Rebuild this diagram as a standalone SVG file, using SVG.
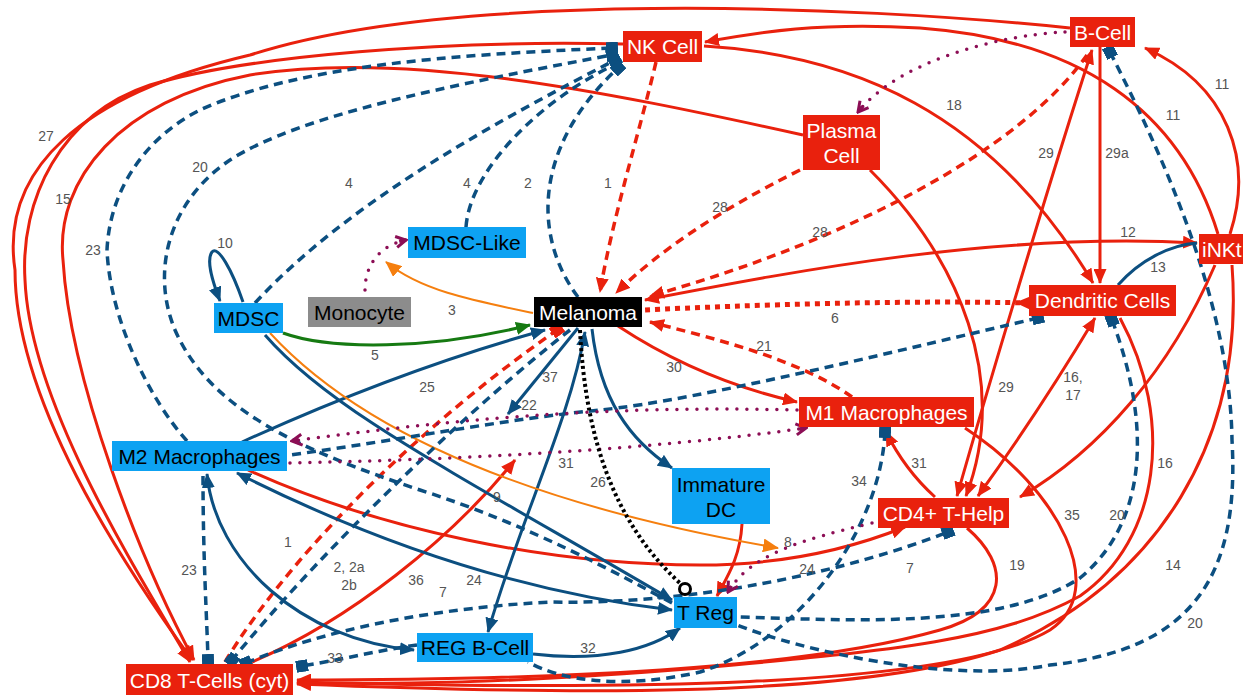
<svg xmlns="http://www.w3.org/2000/svg" width="1243" height="695" viewBox="0 0 1243 695">
<style>
.rs{fill:none;stroke:#E9210D;stroke-width:3}
.rd{fill:none;stroke:#E9210D;stroke-width:3.5;stroke-dasharray:9 6}
.rdot{fill:none;stroke:#E9210D;stroke-width:5;stroke-dasharray:5 5}
.bs{fill:none;stroke:#0C4F80;stroke-width:3}
.bd{fill:none;stroke:#0C4F80;stroke-width:3.5;stroke-dasharray:9 6}
.pd{fill:none;stroke:#8C0E55;stroke-width:3.5;stroke-linecap:round;stroke-dasharray:0 10}
.kd{fill:none;stroke:#000;stroke-width:4;stroke-dasharray:3 3}
.gs{fill:none;stroke:#167A12;stroke-width:3}
.os{fill:none;stroke:#F57F0F;stroke-width:2}
.lb{font-family:"Liberation Sans",Arial,sans-serif;font-size:14px;fill:#555;text-anchor:middle}
.nt{font-family:"Liberation Sans",Arial,sans-serif;font-size:21px;text-anchor:middle}
.red{fill:#E9210D}.lblue{fill:#0DA2F2}.gray{fill:#8C8C8C}.blk{fill:#000}
.w{fill:#fff}.k{fill:#000}
</style>
<defs>
<marker id="aR" markerUnits="userSpaceOnUse" viewBox="0 0 15 13" markerWidth="15" markerHeight="13" refX="14" refY="6.5" orient="auto-start-reverse"><path d="M0,0 L15,6.5 L0,13 z" fill="#E9210D"/></marker>
<marker id="aRf" markerUnits="userSpaceOnUse" viewBox="0 0 15 13" markerWidth="15" markerHeight="13" refX="0" refY="6.5" orient="auto"><path d="M0,0 L15,6.5 L0,13 z" fill="#E9210D"/></marker>
<marker id="aB" markerUnits="userSpaceOnUse" viewBox="0 0 15 13" markerWidth="15" markerHeight="13" refX="14" refY="6.5" orient="auto-start-reverse"><path d="M0,0 L15,6.5 L0,13 z" fill="#0C4F80"/></marker>
<marker id="aG" markerUnits="userSpaceOnUse" viewBox="0 0 15 13" markerWidth="15" markerHeight="13" refX="14" refY="6.5" orient="auto"><path d="M0,0 L15,6.5 L0,13 z" fill="#167A12"/></marker>
<marker id="aO" markerUnits="userSpaceOnUse" viewBox="0 0 16 14" markerWidth="16" markerHeight="14" refX="15" refY="7" orient="auto"><path d="M0,0 L16,7 L0,14 z" fill="#F57F0F"/></marker>
<marker id="cP" markerUnits="userSpaceOnUse" viewBox="0 0 14 14" markerWidth="14" markerHeight="14" refX="12" refY="7" orient="auto"><path d="M2,1.5 L12,7 L2,12.5 M5,7 L12,7" fill="none" stroke="#8C0E55" stroke-width="3"/></marker>
<marker id="sB" markerUnits="userSpaceOnUse" viewBox="0 0 12 12" markerWidth="12" markerHeight="12" refX="6" refY="6" orient="auto"><rect x="0" y="0" width="12" height="12" fill="#0C4F80"/></marker>
<marker id="sR" markerUnits="userSpaceOnUse" viewBox="0 0 12 12" markerWidth="12" markerHeight="12" refX="6" refY="6" orient="auto"><rect x="0" y="0" width="12" height="12" fill="#E9210D"/></marker>
</defs>

<g id="connectors">
<!-- red solid -->
<path class="rs" d="M1070,28 C850,5 450,-10 250,55 C80,95 0,170 15,270 C15,400 120,560 192,660" marker-end="url(#aR)"/>
<path class="rs" d="M623,44 C450,40 250,55 150,85 C60,115 20,200 25,280 C30,400 130,560 190,662" marker-end="url(#aR)"/>
<path class="rs" d="M803,135 C600,90 400,50 250,75 C120,100 55,180 63,260 C70,380 140,560 194,660" marker-end="url(#aR)"/>
<path class="rs" d="M1218,234 C1180,110 1080,40 920,28 C820,22 760,32 705,42" marker-end="url(#aR)"/>
<path class="rs" d="M704,46 C850,55 990,110 1093,283" marker-end="url(#aR)"/>
<path class="rs" d="M1230,234 C1254,160 1228,85 1145,48" marker-end="url(#aR)"/>
<path class="rs" d="M1100,47 L1100,283" marker-end="url(#aR)"/>
<path class="rs" d="M957,496 C990,380 1050,180 1092,50" marker-start="url(#aR)" marker-end="url(#aR)"/>
<path class="rs" d="M870,170 C960,260 1010,380 966,496" marker-end="url(#aR)"/>
<path class="rs" d="M1215,265 C1170,370 1100,450 1020,497" marker-end="url(#aR)"/>
<path class="rs" d="M978,496 Q1040,410 1095,318" marker-start="url(#aR)" marker-end="url(#aR)"/>
<path class="rs" d="M935,497 Q905,470 886,432" marker-end="url(#aR)"/>
<path class="rs" d="M248,470 C380,530 550,565 700,565 C790,565 860,545 905,527" marker-end="url(#aR)"/>
<path class="rs" d="M618,326 Q700,380 797,402" marker-end="url(#aR)"/>
<path class="rs" d="M1197,243 C1000,232 800,270 645,300" marker-start="url(#aR)" marker-end="url(#aR)"/>
<path class="rs" d="M252,662 C350,620 450,540 515,460" marker-end="url(#aR)"/>
<path class="rs" d="M742,524 C740,560 725,580 717,596" marker-end="url(#aR)"/>
<path class="rs" d="M965,428 C1060,490 1110,590 1050,630 C950,690 600,690 297,682" marker-end="url(#aR)"/>
<path class="rs" d="M967,528 C1010,565 1010,610 940,630 C800,670 550,680 297,680" marker-end="url(#aR)"/>
<path class="rs" d="M1120,318 C1175,420 1160,540 1080,596 C1000,640 900,650 700,668 C500,684 400,684 297,683" marker-end="url(#aR)"/>
<path class="rs" d="M1232,265 C1245,440 1160,580 1000,650 C850,700 550,694 297,684" marker-end="url(#aR)"/>
<!-- red dashed / dotted -->
<path class="rd" d="M852,397 C800,360 720,340 650,322" marker-end="url(#aR)"/>
<path class="rdot" d="M1030,303 C900,300 750,305 643,310" marker-start="url(#aRf)"/>
<path class="rd" d="M1087,55 C1020,150 850,240 650,296" marker-end="url(#aR)"/>
<path class="rd" d="M800,170 C720,210 660,250 616,293" marker-end="url(#aR)"/>
<path class="rd" d="M656,62 C640,130 612,220 600,292" marker-end="url(#aR)"/>
<path class="rd" d="M225,662 C280,570 400,440 557,330" marker-end="url(#sR)"/>
<!-- blue solid -->
<path class="bs" d="M243,302 C232,270 218,245 212,252 C206,260 212,280 220,301" marker-end="url(#aB)"/>
<path class="bs" d="M265,335 C330,410 450,470 672,600" marker-end="url(#aB)"/>
<path class="bs" d="M242,442 Q400,370 545,330" marker-end="url(#aB)"/>
<path class="bs" d="M237,473 C350,530 500,590 672,610" marker-start="url(#aB)" marker-end="url(#aB)"/>
<path class="bs" d="M207,474 C215,560 300,640 414,650" marker-start="url(#aB)" marker-end="url(#aB)"/>
<path class="bs" d="M488,632 C520,520 570,420 585,332" marker-start="url(#aB)" marker-end="url(#aB)"/>
<path class="bs" d="M578,328 L508,414" marker-end="url(#aB)"/>
<path class="bs" d="M592,329 C600,400 630,440 672,468" marker-end="url(#aB)"/>
<path class="bs" d="M533,654 C600,662 650,650 680,628" marker-end="url(#aB)"/>
<path class="bs" d="M1118,285 C1140,260 1170,245 1197,243"/>
<!-- green / orange -->
<path class="gs" d="M283,333 C330,350 430,350 530,325" marker-end="url(#aG)"/>
<path class="os" d="M533,313 C470,300 420,290 386,262" marker-end="url(#aO)"/>
<path class="os" d="M270,333 C350,420 500,500 778,548" marker-end="url(#aO)"/>
<!-- blue dashed -->
<path class="bd" d="M255,303 C350,200 500,120 615,60" marker-end="url(#sB)"/>
<path class="bd" d="M466,227 C470,170 540,100 616,64" marker-end="url(#sB)"/>
<path class="bd" d="M578,297 C535,240 530,150 618,68" marker-end="url(#sB)"/>
<path class="bd" d="M187,441 C150,400 110,320 107,250 C110,185 150,135 200,110 C300,65 450,55 612,48" marker-end="url(#sB)"/>
<path class="bd" d="M672,603 C620,575 530,525 420,490 C300,450 210,410 175,330 C150,270 170,200 230,160 C300,115 450,85 612,55" marker-end="url(#sB)"/>
<path class="bd" d="M570,330 C480,400 330,540 232,660" marker-end="url(#sB)"/>
<path class="bd" d="M203,476 C203,560 207,620 208,660" marker-end="url(#sB)"/>
<path class="bd" d="M246,663 C300,640 400,610 550,602 C700,605 850,570 948,532" marker-start="url(#sB)" marker-end="url(#sB)"/>
<path class="bd" d="M417,645 C380,650 340,660 302,666" marker-end="url(#sB)"/>
<path class="bd" d="M885,432 C880,530 800,640 700,672 C620,690 560,680 528,662" marker-start="url(#sB)"/>
<path class="bd" d="M1038,318 C900,350 700,400 600,410 C500,420 400,440 290,455" marker-start="url(#sB)"/>
<path class="bd" d="M1112,320 C1150,420 1150,520 1080,578 C1000,630 850,620 737,617" marker-start="url(#sB)"/>
<path class="bd" d="M1110,52 C1160,150 1230,300 1232,440 C1240,580 1190,650 1050,665 C950,685 800,650 737,625" marker-start="url(#sB)"/>
<!-- purple dotted -->
<path class="pd" d="M1065,32 C1000,35 900,60 858,112" marker-end="url(#cP)"/>
<path class="pd" d="M365,290 C365,265 380,245 406,240" marker-end="url(#cP)"/>
<path class="pd" d="M797,410 C600,405 450,420 292,441" marker-end="url(#cP)"/>
<path class="pd" d="M290,463 C450,460 650,450 806,428" marker-end="url(#cP)"/>
<path class="pd" d="M872,523 C800,540 750,555 728,592" marker-end="url(#cP)"/>
<!-- black dotted -->
<path class="kd" d="M580,330 C585,430 610,520 681,584"/>
<circle cx="685" cy="589" r="5.5" fill="#fff" stroke="#000" stroke-width="3"/>
</g>

<g id="labels">
<text class="lb" x="46" y="141">27</text>
<text class="lb" x="63" y="204">15</text>
<text class="lb" x="200" y="172">20</text>
<text class="lb" x="349" y="188">4</text>
<text class="lb" x="467" y="188">4</text>
<text class="lb" x="528" y="188">2</text>
<text class="lb" x="608" y="188">1</text>
<text class="lb" x="720" y="212">28</text>
<text class="lb" x="820" y="237">28</text>
<text class="lb" x="954" y="110">18</text>
<text class="lb" x="1046" y="158">29</text>
<text class="lb" x="1117" y="158">29a</text>
<text class="lb" x="1173" y="120">11</text>
<text class="lb" x="1222" y="89">11</text>
<text class="lb" x="1128" y="237">12</text>
<text class="lb" x="1158" y="272">13</text>
<text class="lb" x="225" y="248">10</text>
<text class="lb" x="93" y="255">23</text>
<text class="lb" x="452" y="315">3</text>
<text class="lb" x="375" y="360">5</text>
<text class="lb" x="835" y="323">6</text>
<text class="lb" x="764" y="351">21</text>
<text class="lb" x="674" y="372">30</text>
<text class="lb" x="427" y="392">25</text>
<text class="lb" x="550" y="382">37</text>
<text class="lb" x="529" y="410">22</text>
<text class="lb" x="1006" y="392">29</text>
<text class="lb" x="1073" y="382">16,</text>
<text class="lb" x="1073" y="400">17</text>
<text class="lb" x="1165" y="468">16</text>
<text class="lb" x="919" y="468">31</text>
<text class="lb" x="859" y="486">34</text>
<text class="lb" x="566" y="468">31</text>
<text class="lb" x="598" y="487">26</text>
<text class="lb" x="497" y="502">9</text>
<text class="lb" x="1072" y="520">35</text>
<text class="lb" x="1117" y="520">20</text>
<text class="lb" x="788" y="547">8</text>
<text class="lb" x="288" y="547">1</text>
<text class="lb" x="189" y="575">23</text>
<text class="lb" x="349" y="572">2, 2a</text>
<text class="lb" x="349" y="590">2b</text>
<text class="lb" x="416" y="585">36</text>
<text class="lb" x="474" y="585">24</text>
<text class="lb" x="807" y="574">24</text>
<text class="lb" x="443" y="597">7</text>
<text class="lb" x="910" y="573">7</text>
<text class="lb" x="1017" y="570">19</text>
<text class="lb" x="1173" y="570">14</text>
<text class="lb" x="1195" y="628">20</text>
<text class="lb" x="335" y="663">33</text>
<text class="lb" x="588" y="653">32</text>
</g>

<g id="nk-cell"><rect class="red" x="623" y="31" width="79" height="31"/><text class="nt w" x="662.5" y="54">NK Cell</text></g>
<g id="b-cell"><rect class="red" x="1070" y="17" width="65" height="30"/><text class="nt w" x="1102.5" y="40">B-Cell</text></g>
<g id="plasma-cell"><rect class="red" x="803" y="115" width="77" height="55"/><text class="nt w" x="841.5" y="138">Plasma</text><text class="nt w" x="841.5" y="163">Cell</text></g>
<g id="mdsc-like"><rect class="lblue" x="408" y="227" width="118" height="31"/><text class="nt k" x="467" y="250">MDSC-Like</text></g>
<g id="monocyte"><rect class="gray" x="308" y="297" width="103" height="30"/><text class="nt k" x="359.5" y="320">Monocyte</text></g>
<g id="mdsc"><rect class="lblue" x="214" y="303" width="69" height="30"/><text class="nt k" x="248.5" y="326">MDSC</text></g>
<g id="melanoma"><rect class="blk" x="534" y="297" width="108" height="30"/><text class="nt w" x="588" y="320">Melanoma</text></g>
<g id="inkt"><rect class="red" x="1199" y="234" width="50" height="30"/><text class="nt w" x="1202" y="257" style="text-anchor:start">iNKt</text></g>
<g id="dendritic-cells"><rect class="red" x="1029" y="285" width="147" height="31"/><text class="nt w" x="1102.5" y="308">Dendritic Cells</text></g>
<g id="m1-macrophages"><rect class="red" x="799" y="397" width="175" height="30"/><text class="nt w" x="886.5" y="420">M1 Macrophages</text></g>
<g id="m2-macrophages"><rect class="lblue" x="112" y="441" width="175" height="30"/><text class="nt k" x="199.5" y="464">M2 Macrophages</text></g>
<g id="immature-dc"><rect class="lblue" x="672" y="468" width="98" height="56"/><text class="nt k" x="721" y="492">Immature</text><text class="nt k" x="721" y="517">DC</text></g>
<g id="cd4-t-help"><rect class="red" x="878" y="498" width="131" height="30"/><text class="nt w" x="943.5" y="521">CD4+ T-Help</text></g>
<g id="t-reg"><rect class="lblue" x="674" y="597" width="63" height="31"/><text class="nt k" x="677" y="620" style="text-anchor:start">T Reg</text></g>
<g id="reg-b-cell"><rect class="lblue" x="417" y="633" width="116" height="29"/><text class="nt k" x="475" y="655">REG B-Cell</text></g>
<g id="cd8-t-cells"><rect class="red" x="126" y="664" width="167" height="31"/><text class="nt w" x="209.5" y="688">CD8 T-Cells (cyt)</text></g>
</svg>
